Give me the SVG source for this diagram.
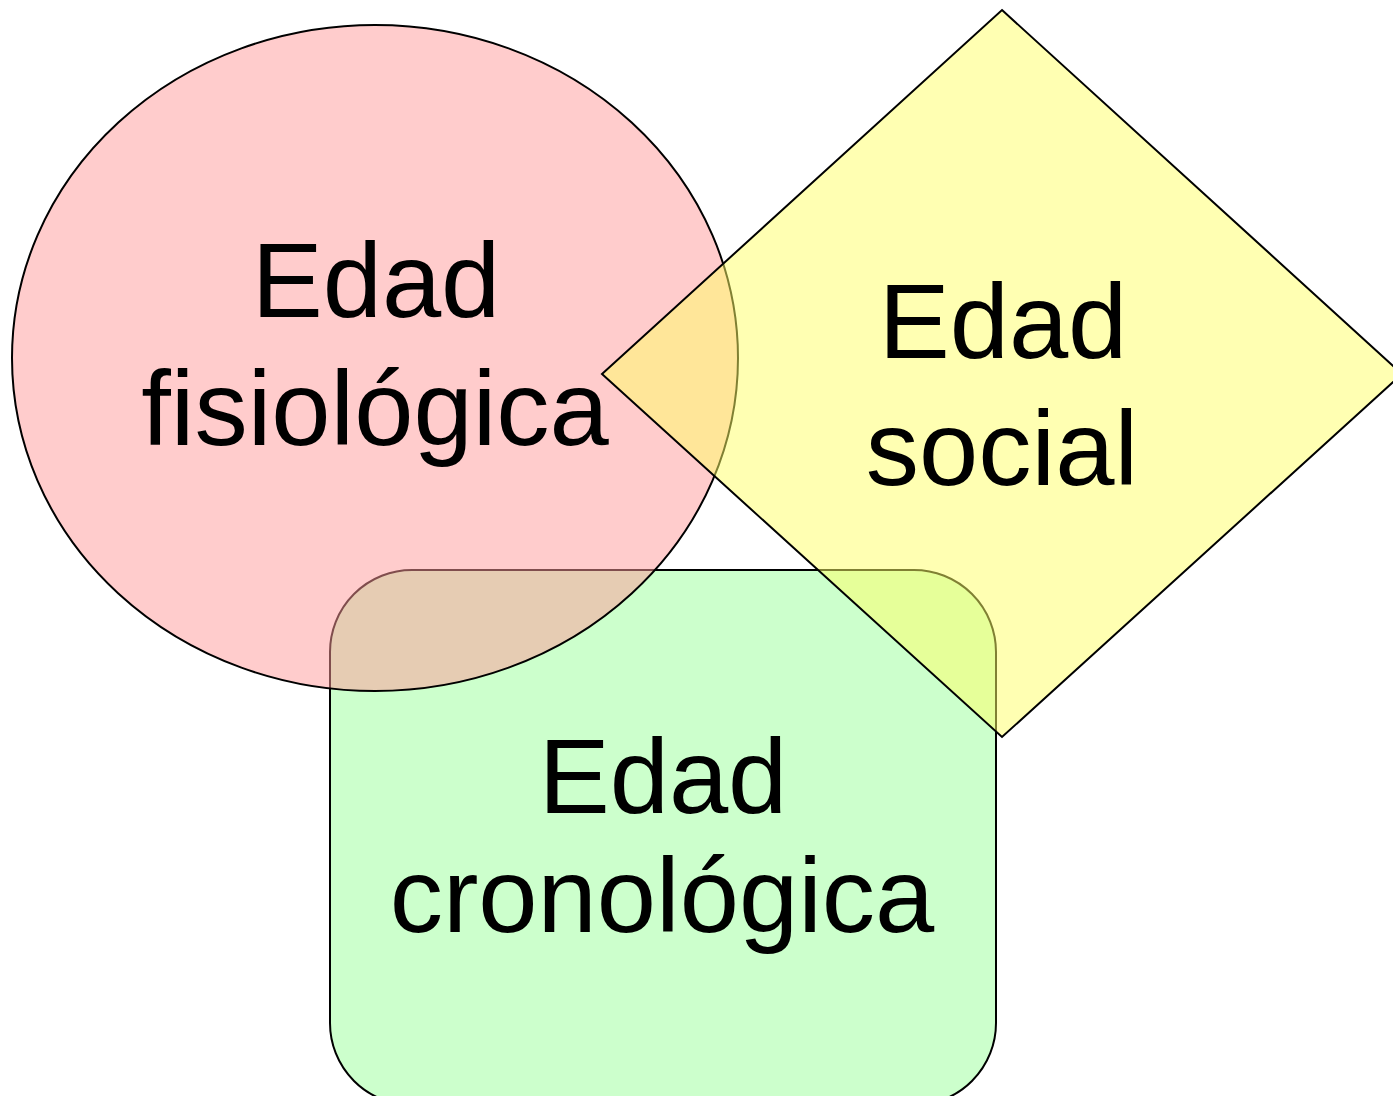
<svg xmlns="http://www.w3.org/2000/svg" width="1393" height="1096" viewBox="0 0 1393 1096">
<style>
.shape{stroke:#000;stroke-width:2}
.lbl{font-family:"Liberation Sans",Arial,sans-serif;font-size:106.5px;fill:#000;text-anchor:middle}
</style>
<rect width="1393" height="1096" fill="#fff"/>
<g id="edad-cronologica">
<rect class="shape" x="330" y="570" width="666" height="535" rx="82" ry="82" fill="#ccffcc"/>
</g>
<g id="edad-fisiologica">
<ellipse class="shape" cx="375" cy="358" rx="363" ry="333" fill="#ff9999" fill-opacity="0.5"/>
</g>
<g id="edad-social">
<polygon class="shape" points="1002,10 1402,374 1002,737 602,374" fill="#ffff66" fill-opacity="0.5"/>
</g>
<g id="connectors"></g>
<g id="labels">
<text class="lbl" x="376" y="317">Edad</text>
<text class="lbl" x="375" y="445">fisiológica</text>
<text class="lbl" x="1003" y="358">Edad</text>
<text class="lbl" x="1002" y="485">social</text>
<text class="lbl" x="663" y="813">Edad</text>
<text class="lbl" x="662" y="932">cronológica</text>
</g>
</svg>
